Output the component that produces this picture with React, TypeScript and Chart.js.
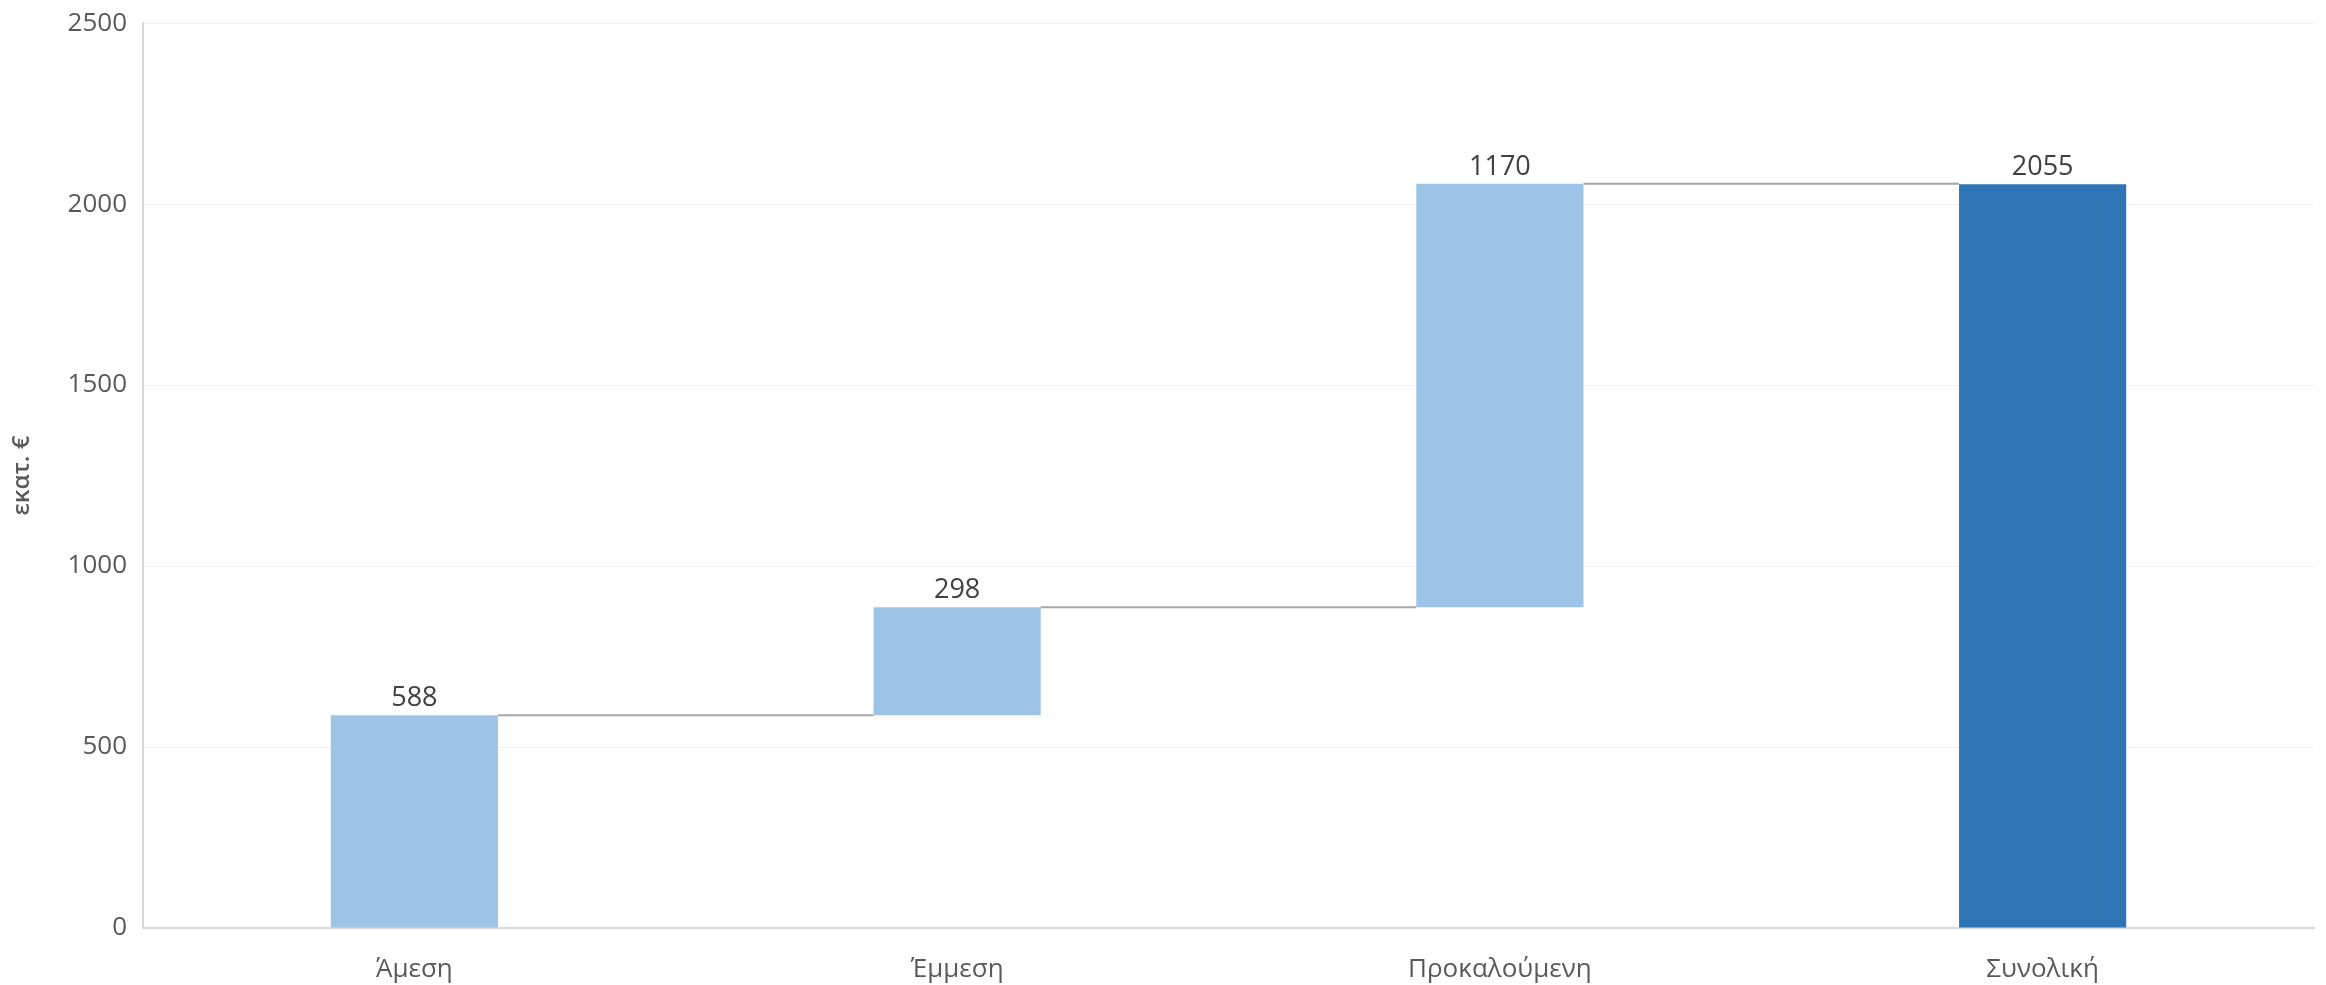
import React, { useEffect, useRef } from "react";
import { Chart, registerables } from "chart.js";

Chart.register(...registerables);

const categories = ["Άμεση", "Έμμεση", "Προκαλούμενη", "Συνολική"];
const increments = [588, 298, 1170];
const totalValue = 2055;
const labelValues = [588, 298, 1170, 2055];
const yTicks = [0, 500, 1000, 1500, 2000, 2500];
const yTitle = "εκατ. €";

const LIGHT = "#9DC3E6";
const DARK = "#2E75B6";

export default function App() {
  const ref = useRef<HTMLCanvasElement | null>(null);

  useEffect(() => {
    document.body.style.margin = "0";
    const canvas = ref.current;
    if (!canvas) return;

    const floating: [number, number][] = [];
    let base = 0;
    increments.forEach((v) => {
      floating.push([base, base + v]);
      base += v;
    });
    floating.push([0, totalValue]);

    const connectorPlugin = {
      id: "connectors",
      afterDatasetsDraw(chart: any) {
        const meta = chart.getDatasetMeta(0);
        const ys = chart.scales.y;
        const ctx = chart.ctx;
        ctx.save();
        ctx.strokeStyle = "#A6A6A6";
        ctx.lineWidth = 2;
        for (let i = 0; i < meta.data.length - 1; i++) {
          const a = meta.data[i];
          const b = meta.data[i + 1];
          const y = ys.getPixelForValue(floating[i][1]);
          ctx.beginPath();
          ctx.moveTo(a.x + a.width / 2, y);
          ctx.lineTo(b.x - b.width / 2, y);
          ctx.stroke();
        }
        ctx.fillStyle = "#404040";
        ctx.font = "27px 'Open Sans'";
        ctx.textAlign = "center";
        ctx.textBaseline = "alphabetic";
        meta.data.forEach((bar: any, i: number) => {
          const top = Math.min(bar.y, bar.base);
          ctx.fillText(String(labelValues[i]), bar.x, top - 9);
        });
        ctx.restore();
      },
    };

    const chart = new Chart(canvas, {
      type: "bar",
      data: {
        labels: categories,
        datasets: [
          {
            data: floating as any,
            backgroundColor: [LIGHT, LIGHT, LIGHT, DARK],
            borderWidth: 0,
            barPercentage: 0.308,
            categoryPercentage: 1,
          },
        ],
      },
      options: {
        responsive: false,
        animation: false,
        layout: { padding: { top: 0, right: 12, bottom: 0, left: 0 } },
        plugins: {
          legend: { display: false },
          tooltip: { enabled: false },
        },
        scales: {
          x: {
            grid: { display: false, drawTicks: false },
            border: { color: "#D9D9D9", width: 2 },
            ticks: {
              color: "#595959",
              font: { family: "'Open Sans'", size: 26 },
              padding: 26,
              maxRotation: 0,
            },
            afterFit(scale: any) {
              scale.height = 57;
            },
          },
          y: {
            min: 0,
            max: 2500,
            afterBuildTicks(scale: any) {
              scale.ticks = yTicks.map((v) => ({ value: v }));
            },
            grid: { color: "#F0F0F0", lineWidth: 1, drawTicks: false },
            border: { color: "#D9D9D9", width: 2 },
            ticks: {
              color: "#595959",
              font: { family: "'Open Sans'", size: 26, lineHeight: 0.55 },
              padding: 16,
              callback: (v: any) => String(v),
            },
            title: {
              display: true,
              text: yTitle,
              color: "#595959",
              font: { family: "'Open Sans'", size: 24, weight: "600" },
              padding: { top: 8, bottom: 0 },
            },
            afterFit(scale: any) {
              scale.width = 143;
            },
          },
        },
      },
      plugins: [connectorPlugin],
    });

    return () => chart.destroy();
  }, []);

  return (
    <div style={{ width: 2326, height: 985, background: "#fff" }}>
      <canvas ref={ref} width={2326} height={985} style={{ display: "block" }} />
    </div>
  );
}
